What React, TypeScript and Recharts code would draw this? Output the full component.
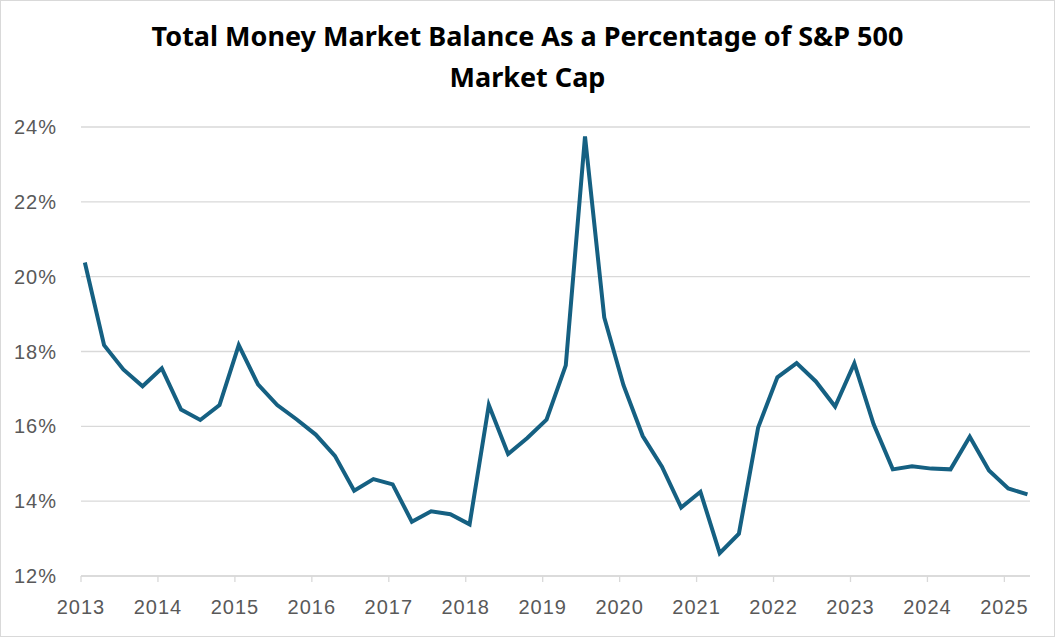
import { LineChart, Line, XAxis, YAxis, CartesianGrid } from 'recharts';

const startYear = 2013;

// quarterly readings, 2013 Q1 .. 2025 Q2 (% of S&P 500 market cap)
const balancePct = [
  20.38, 18.17, 17.52, 17.07, 17.55, 16.45, 16.17, 16.57,
  18.17, 17.12, 16.57, 16.19, 15.78, 15.21, 14.28, 14.59,
  14.45, 13.45, 13.73, 13.65, 13.38, 16.57, 15.26, 15.69,
  16.18, 17.63, 23.75, 18.91, 17.1, 15.74, 14.92, 13.83,
  14.25, 12.61, 13.13, 15.97, 17.31, 17.69, 17.2, 16.53,
  17.68, 16.06, 14.85, 14.93, 14.87, 14.85, 15.72, 14.82,
  14.34, 14.18,
];

const yearTicks = [2013, 2014, 2015, 2016, 2017, 2018, 2019, 2020, 2021, 2022, 2023, 2024, 2025];
const pctTicks = [12, 14, 16, 18, 20, 22, 24];

const data = balancePct.map((v, i) => ({
  t: startYear + 0.05 + i / 4,
  value: v,
}));

const axisText = {
  fill: '#595959',
  fontSize: 20,
  fontFamily: '"Liberation Sans", Arial, sans-serif',
  letterSpacing: 1,
};

export default function App() {
  return (
    <div
      style={{
        position: 'absolute',
        left: 0,
        top: 0,
        width: 1055,
        height: 637,
        background: '#fff',
      }}
    >
      <div
        style={{
          position: 'absolute',
          left: 0,
          top: 0,
          width: 1053,
          height: 635,
          border: '1px solid #d9d9d9',
        }}
      />
      <div
        style={{
          position: 'absolute',
          left: 0,
          top: 15,
          width: 1055,
          textAlign: 'center',
          fontFamily: '"Noto Sans", sans-serif',
          fontWeight: 700,
          fontSize: 27,
          lineHeight: '41px',
          color: '#000',
        }}
      >
        Total Money Market Balance As a Percentage of S&amp;P 500
        <br />
        Market Cap
      </div>
      <LineChart
        width={1055}
        height={637}
        data={data}
        margin={{ top: 127, right: 25, bottom: 0, left: 0 }}
        style={{ position: 'absolute', left: 0, top: 0 }}
      >
        <CartesianGrid vertical={false} stroke="#d9d9d9" strokeWidth={1.3} />
        <XAxis
          dataKey="t"
          type="number"
          domain={[2013, 2025.333]}
          ticks={yearTicks}
          allowDataOverflow
          height={61}
          stroke="#d9d9d9"
          strokeWidth={1.3}
          tickSize={6}
          tickMargin={18}
          tick={axisText}
        />
        <YAxis
          type="number"
          domain={[12, 24]}
          ticks={pctTicks}
          width={81}
          axisLine={false}
          tickLine={false}
          tickSize={0}
          tickMargin={24}
          tick={axisText}
          tickFormatter={(v) => `${v}%`}
        />
        <Line
          type="linear"
          dataKey="value"
          stroke="#156082"
          strokeWidth={4}
          dot={false}
          isAnimationActive={false}
        />
      </LineChart>
    </div>
  );
}
